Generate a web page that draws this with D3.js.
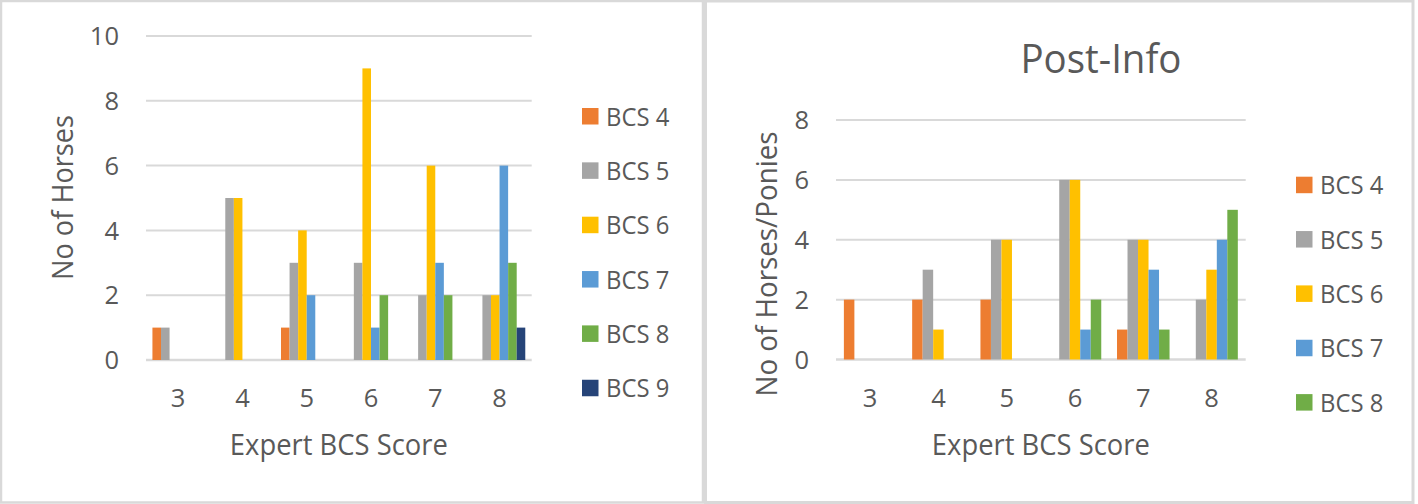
<!DOCTYPE html>
<html>
<head>
<meta charset="utf-8">
<script src="https://cdn.jsdelivr.net/npm/d3@7"></script>
<style>
  html, body { margin: 0; padding: 0; background: #ffffff; }
  svg { display: block; }
  text { font-family: "Open Sans", "Noto Sans", sans-serif; fill: #595959; }
</style>
</head>
<body>
<svg id="chart" width="1418" height="504"></svg>
<script>
// ---------- DATA ----------
const categories = ["3", "4", "5", "6", "7", "8"];

// Left chart (no title)
const leftSeriesNames = ["BCS 4", "BCS 5", "BCS 6", "BCS 7", "BCS 8", "BCS 9"];
const leftBCS4 = [1, 0, 1, 0, 0, 0];
const leftBCS5 = [1, 5, 3, 3, 2, 2];
const leftBCS6 = [0, 5, 4, 9, 6, 2];
const leftBCS7 = [0, 0, 2, 1, 3, 6];
const leftBCS8 = [0, 0, 0, 2, 2, 3];
const leftBCS9 = [0, 0, 0, 0, 0, 1];
const leftTicks = [0, 2, 4, 6, 8, 10];

// Right chart: Post-Info
const rightSeriesNames = ["BCS 4", "BCS 5", "BCS 6", "BCS 7", "BCS 8"];
const rightBCS4 = [2, 2, 2, 0, 1, 0];
const rightBCS5 = [0, 3, 4, 6, 4, 2];
const rightBCS6 = [0, 1, 4, 6, 4, 3];
const rightBCS7 = [0, 0, 0, 1, 3, 4];
const rightBCS8 = [0, 0, 0, 2, 1, 5];
const rightTicks = [0, 2, 4, 6, 8];

const xTitle = "Expert BCS Score";
const leftYTitle = "No of Horses";
const rightYTitle = "No of Horses/Ponies";
const rightTitle = "Post-Info";

const seriesColors = ["#ED7D31", "#A5A5A5", "#FFC000", "#5B9BD5", "#70AD47", "#264478"];

// ---------- DRAW ----------
const svg = d3.select("#chart");

// panel borders
svg.append("rect").attr("x", 1).attr("y", 1).attr("width", 702).attr("height", 501.5)
  .attr("fill", "none").attr("stroke", "#d9d9d9").attr("stroke-width", 2.5);
svg.append("rect").attr("x", 705.5).attr("y", 1).attr("width", 707.5).attr("height", 501.5)
  .attr("fill", "none").attr("stroke", "#d9d9d9").attr("stroke-width", 3);

function drawChart(cfg) {
  const g = svg.append("g");
  const names = cfg.names;
  const seriesData = cfg.series;

  const x0 = d3.scaleBand().domain(categories).range([cfg.left, cfg.right]).padding(0);
  const x1 = d3.scaleBand().domain(names).range([0, x0.bandwidth()])
    .paddingInner(0).paddingOuter(0.75);
  const y = d3.scaleLinear().domain([0, cfg.ymax]).range([cfg.bottom, cfg.top]);

  // gridlines
  g.append("g").selectAll("line").data(cfg.ticks).join("line")
    .attr("x1", cfg.left).attr("x2", cfg.right)
    .attr("y1", d => y(d)).attr("y2", d => y(d))
    .attr("stroke", "#d9d9d9").attr("stroke-width", d => d === 0 ? 2.5 : 2);

  // bars
  const rows = [];
  names.forEach((n, si) => {
    seriesData[si].forEach((v, ci) => rows.push({ s: n, si: si, c: categories[ci], v: v }));
  });
  g.append("g").selectAll("rect").data(rows.filter(d => d.v > 0)).join("rect")
    .attr("x", d => x0(d.c) + x1(d.s))
    .attr("width", x1.bandwidth())
    .attr("y", d => y(d.v))
    .attr("height", d => y(0) - y(d.v))
    .attr("fill", d => seriesColors[d.si]);

  // y tick labels
  g.append("g").selectAll("text").data(cfg.ticks).join("text")
    .attr("x", cfg.yLabelX)
    .attr("y", d => y(d) + 9.2)
    .attr("text-anchor", "end")
    .attr("font-size", 25.5)
    .text(d => d);

  // x tick labels
  g.append("g").selectAll("text").data(categories).join("text")
    .attr("x", d => x0(d) + x0.bandwidth() / 2)
    .attr("y", 406.5)
    .attr("text-anchor", "middle")
    .attr("font-size", 25.5)
    .text(d => d);

  // x axis title
  g.append("text")
    .attr("x", (cfg.left + cfg.right) / 2)
    .attr("y", 455)
    .attr("text-anchor", "middle")
    .attr("font-size", 28.3)
    .attr("textLength", 218).attr("lengthAdjust", "spacingAndGlyphs")
    .text(xTitle);

  // y axis title
  g.append("text")
    .attr("transform", `translate(${cfg.yTitleX},${cfg.yTitleY}) rotate(-90)`)
    .attr("text-anchor", "middle")
    .attr("font-size", 28.3)
    .attr("textLength", cfg.yTitleLen).attr("lengthAdjust", "spacingAndGlyphs")
    .text(cfg.yTitle);

  // legend
  const leg = g.append("g").selectAll("g").data(names).join("g")
    .attr("transform", (d, i) => `translate(${cfg.legX},${cfg.legY + i * 54.35})`);
  leg.append("rect").attr("x", 0).attr("y", -8.3).attr("width", 16.5).attr("height", 16.5)
    .attr("fill", (d, i) => seriesColors[i]);
  leg.append("text").attr("x", 24).attr("y", 9.2)
    .attr("font-size", 25.5)
    .attr("textLength", 63.3).attr("lengthAdjust", "spacingAndGlyphs")
    .text(d => d);

  if (cfg.title) {
    g.append("text")
      .attr("x", cfg.titleX).attr("y", 72.7)
      .attr("text-anchor", "middle")
      .attr("font-size", 39.7)
      .attr("textLength", 161).attr("lengthAdjust", "spacingAndGlyphs")
      .text(cfg.title);
  }
}

drawChart({
  names: leftSeriesNames,
  series: [leftBCS4, leftBCS5, leftBCS6, leftBCS7, leftBCS8, leftBCS9],
  ticks: leftTicks, ymax: 10,
  left: 146, right: 531.7, top: 36, bottom: 360,
  yLabelX: 119,
  yTitle: leftYTitle, yTitleX: 72.5, yTitleY: 197.5, yTitleLen: 165,
  legX: 582, legY: 116.3
});

drawChart({
  names: rightSeriesNames,
  series: [rightBCS4, rightBCS5, rightBCS6, rightBCS7, rightBCS8],
  ticks: rightTicks, ymax: 8,
  left: 836, right: 1245.7, top: 120, bottom: 359.5,
  yLabelX: 809,
  yTitle: rightYTitle, yTitleX: 776.5, yTitleY: 264, yTitleLen: 265,
  legX: 1296, legY: 185,
  title: rightTitle, titleX: 1101
});
</script>
</body>
</html>
